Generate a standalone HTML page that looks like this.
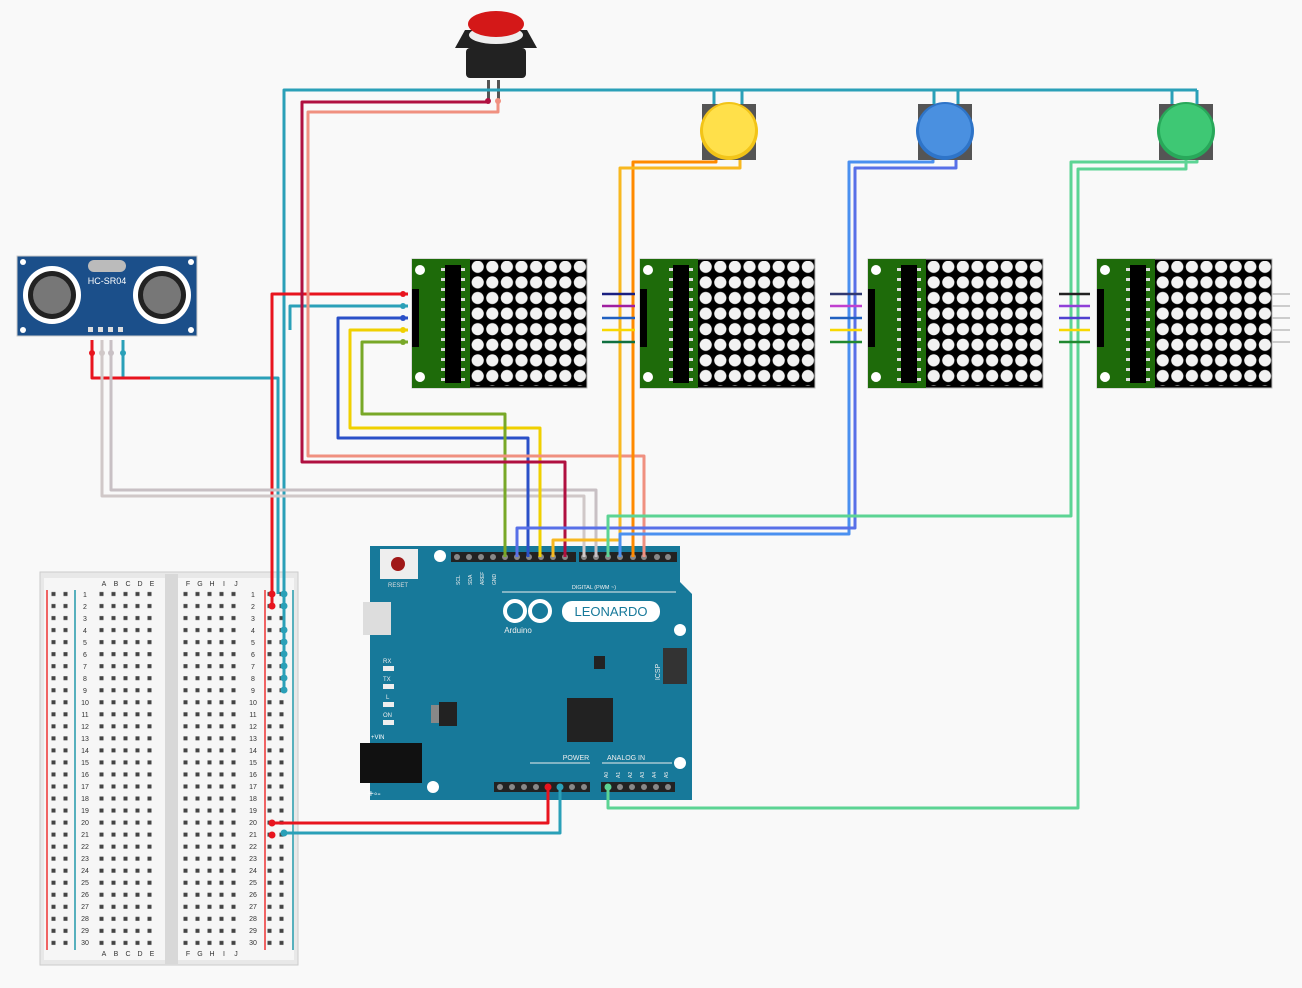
<!DOCTYPE html>
<html><head><meta charset="utf-8"><style>html,body{margin:0;padding:0;background:#f9f9f9}svg{display:block}</style></head><body>
<svg width="1302" height="988" viewBox="0 0 1302 988" xmlns="http://www.w3.org/2000/svg" font-family="Liberation Sans, sans-serif">
<defs>
<pattern id="dots" x="0" y="0" width="14.6" height="15.6" patternUnits="userSpaceOnUse"><circle cx="7.3" cy="7.8" r="6.1" fill="#f2f2f2"/></pattern>
<pattern id="holes" x="0" y="588" width="12" height="12.03" patternUnits="userSpaceOnUse"><rect x="3.5" y="4" width="4" height="4" fill="#444"/></pattern>
<g id="matrix">
<rect x="0" y="0" width="175" height="129" fill="#000" stroke="#bbb"/>
<rect x="0" y="0" width="58" height="129" fill="#1e6b0a"/>
<circle cx="8" cy="11" r="5" fill="#fff"/><circle cx="8" cy="118" r="5" fill="#fff"/>
<rect x="33" y="6" width="16" height="118" fill="#000"/>
<g fill="#ddd"><rect x="29" y="9" width="4" height="3"/><rect x="29" y="19" width="4" height="3"/><rect x="29" y="29" width="4" height="3"/><rect x="29" y="39" width="4" height="3"/><rect x="29" y="49" width="4" height="3"/><rect x="29" y="59" width="4" height="3"/><rect x="29" y="69" width="4" height="3"/><rect x="29" y="79" width="4" height="3"/><rect x="29" y="89" width="4" height="3"/><rect x="29" y="99" width="4" height="3"/><rect x="29" y="109" width="4" height="3"/><rect x="29" y="119" width="4" height="3"/>
<rect x="49" y="9" width="4" height="3"/><rect x="49" y="19" width="4" height="3"/><rect x="49" y="29" width="4" height="3"/><rect x="49" y="39" width="4" height="3"/><rect x="49" y="49" width="4" height="3"/><rect x="49" y="59" width="4" height="3"/><rect x="49" y="69" width="4" height="3"/><rect x="49" y="79" width="4" height="3"/><rect x="49" y="89" width="4" height="3"/><rect x="49" y="99" width="4" height="3"/><rect x="49" y="109" width="4" height="3"/><rect x="49" y="119" width="4" height="3"/></g>
<rect x="0" y="30" width="7" height="58" fill="#000"/>
<rect x="58" y="2" width="117" height="125" fill="url(#dots)"/>
</g>
</defs>

<!-- breadboard -->
<rect x="40" y="572" width="258" height="393" fill="#e8e8e8" stroke="#ccc"/>
<rect x="44" y="578" width="250" height="382" fill="#f6f6f6"/>
<rect x="165" y="574" width="13" height="390" fill="#d8d8d8"/>
<line x1="47" y1="590" x2="47" y2="950" stroke="#e33" stroke-width="1.5"/>
<line x1="75" y1="590" x2="75" y2="950" stroke="#29a" stroke-width="1.5"/>
<line x1="265" y1="590" x2="265" y2="950" stroke="#e33" stroke-width="1.5"/>
<line x1="293" y1="590" x2="293" y2="950" stroke="#29a" stroke-width="1.5"/>
<rect x="49" y="588" width="24" height="361" fill="url(#holes)"/>
<rect x="97" y="588" width="60" height="361" fill="url(#holes)"/>
<rect x="182" y="588" width="60" height="361" fill="url(#holes)"/>
<rect x="265" y="588" width="24" height="361" fill="url(#holes)"/>
<g font-size="7" fill="#333" text-anchor="middle">
<text x="104" y="586">A</text><text x="116" y="586">B</text><text x="128" y="586">C</text><text x="140" y="586">D</text><text x="152" y="586">E</text>
<text x="188" y="586">F</text><text x="200" y="586">G</text><text x="212" y="586">H</text><text x="224" y="586">I</text><text x="236" y="586">J</text>
<text x="104" y="956">A</text><text x="116" y="956">B</text><text x="128" y="956">C</text><text x="140" y="956">D</text><text x="152" y="956">E</text>
<text x="188" y="956">F</text><text x="200" y="956">G</text><text x="212" y="956">H</text><text x="224" y="956">I</text><text x="236" y="956">J</text>
</g>
<g font-size="7" fill="#333" text-anchor="middle">
<text x="85" y="597">1</text><text x="85" y="609">2</text><text x="85" y="621">3</text><text x="85" y="633">4</text><text x="85" y="645">5</text><text x="85" y="657">6</text><text x="85" y="669">7</text><text x="85" y="681">8</text><text x="85" y="693">9</text><text x="85" y="705">10</text><text x="85" y="717">11</text><text x="85" y="729">12</text><text x="85" y="741">13</text><text x="85" y="753">14</text><text x="85" y="765">15</text><text x="85" y="777">16</text><text x="85" y="789">17</text><text x="85" y="801">18</text><text x="85" y="813">19</text><text x="85" y="825">20</text><text x="85" y="837">21</text><text x="85" y="849">22</text><text x="85" y="861">23</text><text x="85" y="873">24</text><text x="85" y="885">25</text><text x="85" y="897">26</text><text x="85" y="909">27</text><text x="85" y="921">28</text><text x="85" y="933">29</text><text x="85" y="945">30</text>
<text x="253" y="597">1</text><text x="253" y="609">2</text><text x="253" y="621">3</text><text x="253" y="633">4</text><text x="253" y="645">5</text><text x="253" y="657">6</text><text x="253" y="669">7</text><text x="253" y="681">8</text><text x="253" y="693">9</text><text x="253" y="705">10</text><text x="253" y="717">11</text><text x="253" y="729">12</text><text x="253" y="741">13</text><text x="253" y="753">14</text><text x="253" y="765">15</text><text x="253" y="777">16</text><text x="253" y="789">17</text><text x="253" y="801">18</text><text x="253" y="813">19</text><text x="253" y="825">20</text><text x="253" y="837">21</text><text x="253" y="849">22</text><text x="253" y="861">23</text><text x="253" y="873">24</text><text x="253" y="885">25</text><text x="253" y="897">26</text><text x="253" y="909">27</text><text x="253" y="921">28</text><text x="253" y="933">29</text><text x="253" y="945">30</text>
</g>

<!-- HC-SR04 -->
<rect x="17" y="256" width="180" height="80" fill="#1b4f8a" stroke="#ccc"/>
<circle cx="23" cy="262" r="3" fill="#fff"/><circle cx="191" cy="262" r="3" fill="#fff"/><circle cx="23" cy="330" r="3" fill="#fff"/><circle cx="191" cy="330" r="3" fill="#fff"/>
<circle cx="52" cy="295" r="29" fill="#fff"/><circle cx="52" cy="295" r="24" fill="#222"/><circle cx="52" cy="295" r="19" fill="#777"/>
<circle cx="162" cy="295" r="29" fill="#fff"/><circle cx="162" cy="295" r="24" fill="#222"/><circle cx="162" cy="295" r="19" fill="#777"/>
<rect x="88" y="260" width="38" height="12" rx="6" fill="#bbb"/>
<text x="107" y="284" font-size="9" fill="#fff" text-anchor="middle">HC-SR04</text>
<g fill="#ddd"><rect x="88" y="327" width="5" height="5"/><rect x="98" y="327" width="5" height="5"/><rect x="108" y="327" width="5" height="5"/><rect x="118" y="327" width="5" height="5"/></g>

<!-- matrices -->
<use href="#matrix" x="412" y="259"/>
<use href="#matrix" x="640" y="259"/>
<use href="#matrix" x="868" y="259"/>
<use href="#matrix" x="1097" y="259"/>
<g stroke="#ccc" stroke-width="2"><line x1="1272" y1="294" x2="1290" y2="294"/><line x1="1272" y1="306" x2="1290" y2="306"/><line x1="1272" y1="318" x2="1290" y2="318"/><line x1="1272" y1="330" x2="1290" y2="330"/><line x1="1272" y1="342" x2="1290" y2="342"/></g>

<!-- Arduino -->
<path d="M370,546 L680,546 L680,582 L692,594 L692,800 L370,800 Z" fill="#17799a"/>
<rect x="451" y="552" width="125" height="10" fill="#222"/><rect x="579" y="552" width="98" height="10" fill="#222"/>
<g fill="#888"><circle cx="457" cy="557" r="3"/><circle cx="469" cy="557" r="3"/><circle cx="481" cy="557" r="3"/><circle cx="493" cy="557" r="3"/><circle cx="505" cy="557" r="3"/><circle cx="517" cy="557" r="3"/><circle cx="529" cy="557" r="3"/><circle cx="541" cy="557" r="3"/><circle cx="553" cy="557" r="3"/><circle cx="565" cy="557" r="3"/><circle cx="584" cy="557" r="3"/><circle cx="596" cy="557" r="3"/><circle cx="608" cy="557" r="3"/><circle cx="620" cy="557" r="3"/><circle cx="633" cy="557" r="3"/><circle cx="644" cy="557" r="3"/><circle cx="657" cy="557" r="3"/><circle cx="668" cy="557" r="3"/></g>
<rect x="494" y="782" width="96" height="10" fill="#222"/><rect x="601" y="782" width="74" height="10" fill="#222"/>
<g fill="#888"><circle cx="500" cy="787" r="3"/><circle cx="512" cy="787" r="3"/><circle cx="524" cy="787" r="3"/><circle cx="536" cy="787" r="3"/><circle cx="548" cy="787" r="3"/><circle cx="560" cy="787" r="3"/><circle cx="572" cy="787" r="3"/><circle cx="584" cy="787" r="3"/><circle cx="608" cy="787" r="3"/><circle cx="620" cy="787" r="3"/><circle cx="632" cy="787" r="3"/><circle cx="644" cy="787" r="3"/><circle cx="656" cy="787" r="3"/><circle cx="668" cy="787" r="3"/></g>
<rect x="380" y="549" width="38" height="30" fill="#eee"/><circle cx="398" cy="564" r="7" fill="#a01818"/>
<text x="398" y="587" font-size="6" fill="#ddd" text-anchor="middle">RESET</text>
<circle cx="440" cy="556" r="6" fill="#fff"/><circle cx="680" cy="630" r="6" fill="#fff"/><circle cx="680" cy="763" r="6" fill="#fff"/><circle cx="433" cy="787" r="6" fill="#fff"/>
<rect x="363" y="602" width="28" height="33" fill="#ddd"/>
<rect x="360" y="743" width="62" height="40" fill="#111"/>
<text x="371" y="739" font-size="6" fill="#fff">+VIN</text>
<text x="368" y="797" font-size="10" fill="#fff">+◦-</text>
<g fill="#eee"><rect x="383" y="666" width="11" height="5"/><rect x="383" y="684" width="11" height="5"/><rect x="383" y="702" width="11" height="5"/><rect x="383" y="720" width="11" height="5"/></g>
<g font-size="6" fill="#eee"><text x="383" y="663">RX</text><text x="383" y="681">TX</text><text x="386" y="699">L</text><text x="383" y="717">ON</text></g>
<rect x="431" y="705" width="14" height="18" fill="#888"/><rect x="439" y="702" width="18" height="24" fill="#222"/>
<rect x="567" y="698" width="46" height="44" fill="#222"/>
<rect x="594" y="656" width="11" height="13" fill="#222"/>
<rect x="663" y="648" width="24" height="36" fill="#333"/>
<text x="660" y="672" font-size="7" fill="#eee" transform="rotate(-90 660 672)" text-anchor="middle">ICSP</text>
<line x1="502" y1="592" x2="676" y2="592" stroke="#eee" stroke-width="1"/>
<text x="594" y="589" font-size="5.5" fill="#eee" text-anchor="middle">DIGITAL (PWM ~)</text>
<circle cx="515" cy="611" r="10" fill="none" stroke="#fff" stroke-width="4"/><circle cx="540" cy="611" r="10" fill="none" stroke="#fff" stroke-width="4"/>
<text x="518" y="633" font-size="8" fill="#eee" text-anchor="middle">Arduino</text>
<rect x="562" y="601" width="98" height="21" rx="10" fill="#fff"/>
<text x="611" y="616" font-size="13" fill="#17799a" text-anchor="middle">LEONARDO</text>
<text x="576" y="760" font-size="7" fill="#eee" text-anchor="middle">POWER</text>
<text x="626" y="760" font-size="7" fill="#eee" text-anchor="middle">ANALOG IN</text>
<line x1="530" y1="763" x2="590" y2="763" stroke="#eee"/><line x1="602" y1="763" x2="672" y2="763" stroke="#eee"/>
<g font-size="5" fill="#eee"><text x="608" y="778" transform="rotate(-90 608 778)">A0</text><text x="620" y="778" transform="rotate(-90 620 778)">A1</text><text x="632" y="778" transform="rotate(-90 632 778)">A2</text><text x="644" y="778" transform="rotate(-90 644 778)">A3</text><text x="656" y="778" transform="rotate(-90 656 778)">A4</text><text x="668" y="778" transform="rotate(-90 668 778)">A5</text>
<text x="460" y="585" transform="rotate(-90 460 585)">SCL</text><text x="472" y="585" transform="rotate(-90 472 585)">SDA</text><text x="484" y="585" transform="rotate(-90 484 585)">AREF</text><text x="496" y="585" transform="rotate(-90 496 585)">GND</text></g>

<!-- buttons -->
<g transform="translate(0,0)">
<path d="M465,30 L527,30 L537,48 L455,48 Z" fill="#222"/>
<rect x="466" y="48" width="60" height="30" rx="4" fill="#222"/>
<ellipse cx="496" cy="35" rx="27" ry="9" fill="#eee"/>
<ellipse cx="496" cy="24" rx="28" ry="13" fill="#d41818"/>
<rect x="487" y="80" width="3" height="20" fill="#555"/><rect x="497" y="80" width="3" height="20" fill="#555"/>
</g>
<rect x="702" y="104" width="54" height="56" fill="#555"/><circle cx="729" cy="131" r="29" fill="#f2c418"/><circle cx="729" cy="130" r="26" fill="#ffe04a"/>
<rect x="918" y="104" width="54" height="56" fill="#555"/><circle cx="945" cy="131" r="29" fill="#2e74c8"/><circle cx="945" cy="130" r="26" fill="#4a90e0"/>
<rect x="1159" y="104" width="54" height="56" fill="#555"/><circle cx="1186" cy="131" r="29" fill="#28a85a"/><circle cx="1186" cy="130" r="26" fill="#3ec874"/>

<!-- wires -->
<g fill="none" stroke-width="3" stroke-linejoin="round">
<!-- GND teal -->
<polyline stroke="#2aa0b8" points="284,690 284,90 1197,90"/>
<polyline stroke="#2aa0b8" points="714,90 714,104"/><polyline stroke="#2aa0b8" points="742,90 742,104"/>
<polyline stroke="#2aa0b8" points="934,90 934,104"/><polyline stroke="#2aa0b8" points="958,90 958,104"/>
<polyline stroke="#2aa0b8" points="1172,90 1172,104"/><polyline stroke="#2aa0b8" points="1197,90 1197,104"/>
<polyline stroke="#2aa0b8" points="408,306 290,306 290,330"/>
<polyline stroke="#2aa0b8" points="123,340 123,378 278,378 278,594"/>
<polyline stroke="#2aa0b8" points="284,833 560,833 560,787"/>
<!-- red -->
<polyline stroke="#e8141e" points="408,294 272,294 272,606"/>
<polyline stroke="#e8141e" points="92,340 92,378 150,378"/>
<polyline stroke="#e8141e" points="272,823 548,823 548,787"/>
<!-- HC trig/echo -->
<polyline stroke="#d0c8c8" points="102,340 102,496 584,496 584,557"/>
<polyline stroke="#c8c0c4" points="111,340 111,490 596,490 596,557"/>
<!-- matrix data -->
<polyline stroke="#2a50c8" points="408,318 338,318 338,438 528,438 528,557"/>
<polyline stroke="#f0d000" points="408,330 350,330 350,428 540,428 540,557"/>
<polyline stroke="#78a828" points="408,342 362,342 362,414 505,414 505,557"/>
<!-- big red button -->
<polyline stroke="#b01040" points="488,100 488,102 302,102 302,462 565,462 565,557"/>
<polyline stroke="#f09080" points="498,100 498,112 308,112 308,456 644,456 644,557"/>
<!-- yellow button -->
<polyline stroke="#ff8a00" points="716,160 716,162 633,162 633,557"/>
<polyline stroke="#f8b820" points="740,160 740,168 620,168 620,540 553,540 553,557"/>
<!-- blue button -->
<polyline stroke="#4a90f0" points="933,160 933,162 849,162 849,534 620,534 620,557"/>
<polyline stroke="#5870e8" points="956,160 956,168 855,168 855,528 517,528 517,557"/>
<!-- green button -->
<polyline stroke="#5cd494" points="1197,160 1197,162 1071,162 1071,516 608,516 608,557"/>
<polyline stroke="#5cd494" points="1186,160 1186,169 1078,169 1078,808 608,808 608,787"/>
<!-- chain wires -->
<g stroke-width="2.5">
<line x1="602" y1="294" x2="635" y2="294" stroke="#1a2080"/><line x1="602" y1="306" x2="635" y2="306" stroke="#a020a0"/><line x1="602" y1="318" x2="635" y2="318" stroke="#2060c0"/><line x1="602" y1="330" x2="635" y2="330" stroke="#f8d800"/><line x1="602" y1="342" x2="635" y2="342" stroke="#107040"/>
<line x1="830" y1="294" x2="862" y2="294" stroke="#303870"/><line x1="830" y1="306" x2="862" y2="306" stroke="#c040d0"/><line x1="830" y1="318" x2="862" y2="318" stroke="#2060c0"/><line x1="830" y1="330" x2="862" y2="330" stroke="#f8d800"/><line x1="830" y1="342" x2="862" y2="342" stroke="#208830"/>
<line x1="1059" y1="294" x2="1090" y2="294" stroke="#222"/><line x1="1059" y1="306" x2="1090" y2="306" stroke="#9040d8"/><line x1="1059" y1="318" x2="1090" y2="318" stroke="#5040d0"/><line x1="1059" y1="330" x2="1090" y2="330" stroke="#f8d800"/><line x1="1059" y1="342" x2="1090" y2="342" stroke="#208830"/>
</g>
</g>
<g>
<circle cx="403" cy="294" r="3" fill="#e8141e"/><circle cx="403" cy="306" r="3" fill="#2aa0b8"/><circle cx="403" cy="318" r="3" fill="#2a50c8"/><circle cx="403" cy="330" r="3" fill="#f0d000"/><circle cx="403" cy="342" r="3" fill="#78a828"/>
<circle cx="272" cy="594" r="3.5" fill="#e8141e"/><circle cx="272" cy="606" r="3.5" fill="#e8141e"/><circle cx="272" cy="823" r="3.5" fill="#e8141e"/><circle cx="272" cy="835" r="3.5" fill="#e8141e"/>
<circle cx="284" cy="594" r="3.5" fill="#2aa0b8"/><circle cx="284" cy="606" r="3.5" fill="#2aa0b8"/><circle cx="284" cy="630" r="3.5" fill="#2aa0b8"/><circle cx="284" cy="642" r="3.5" fill="#2aa0b8"/><circle cx="284" cy="654" r="3.5" fill="#2aa0b8"/><circle cx="284" cy="666" r="3.5" fill="#2aa0b8"/><circle cx="284" cy="678" r="3.5" fill="#2aa0b8"/><circle cx="284" cy="690" r="3.5" fill="#2aa0b8"/><circle cx="284" cy="833" r="3.5" fill="#2aa0b8"/>
<circle cx="92" cy="353" r="3" fill="#e8141e"/><circle cx="102" cy="353" r="3" fill="#d0c8c8"/><circle cx="111" cy="353" r="3" fill="#c8c0c4"/><circle cx="123" cy="353" r="3" fill="#2aa0b8"/>
<circle cx="488" cy="101" r="3" fill="#b01040"/><circle cx="498" cy="101" r="3" fill="#f09080"/>
<circle cx="548" cy="787" r="3.5" fill="#e8141e"/><circle cx="560" cy="787" r="3.5" fill="#2aa0b8"/><circle cx="608" cy="787" r="3.5" fill="#5cd494"/>
</g>
</svg>
</body></html>
